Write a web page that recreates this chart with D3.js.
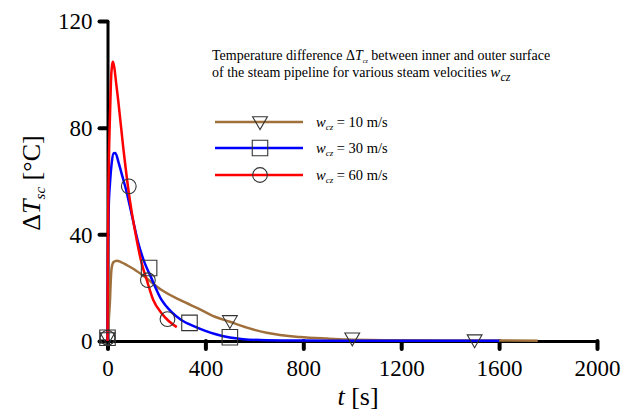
<!DOCTYPE html>
<html>
<head>
<meta charset="utf-8">
<script src="https://cdn.jsdelivr.net/npm/d3@7"></script>
<style>
  html, body { margin: 0; padding: 0; background: #fff; }
  text { font-family: "Liberation Serif", "Times New Roman", serif; fill: #000; }
</style>
</head>
<body>
<div id="chart"></div>
<script>
// curve for w_cz = 10 m/s
var time10 = [0, 3, 6, 10, 13, 17, 25, 38, 55, 80, 110, 153, 221, 300, 378, 439, 500, 570, 650, 786, 900, 977, 1200, 1500, 1758];
var dT10   = [0, 4, 9, 15, 22, 27.5, 29.6, 30.1, 29.6, 28.4, 26.8, 24, 19.1, 15.2, 11.9, 9.1, 7.2, 5, 3.1, 1.5, 0.9, 0.6, 0.3, 0.2, 0.1];

// curve for w_cz = 30 m/s
var time30 = [0, 2, 5, 10, 17, 25, 32, 45, 60, 75, 100, 125, 153, 174, 221, 260, 300, 357, 400, 439, 500, 554, 650, 800, 1000, 1600];
var dT30   = [0, 35, 50, 59, 66.6, 70.4, 70.5, 67, 62, 57, 47, 37, 29, 24.7, 15.4, 11, 8, 5.4, 3.8, 2.6, 1.3, 0.7, 0.3, 0.15, 0.1, 0.05];

// curve for w_cz = 60 m/s
var time60 = [0, 2, 4, 7, 10, 14, 18, 22, 27, 35, 44, 65, 88, 115, 140, 160, 187, 220, 250, 283];
var dT60   = [0, 40, 58, 74, 84, 97, 103, 104.7, 103, 97, 90, 72, 55, 40, 29, 23, 15.4, 10.5, 7.5, 5.2];

// measured points
var mark10T = [0, 500, 1000, 1500];
var mark10V = [1.5, 7.9, 1.4, 0.7];
var mark30T = [0, 170, 335, 500];
var mark30V = [1.2, 27.4, 6.8, 1.4];
var mark60T = [0, 87, 165, 245];
var mark60V = [1.2, 58, 22.8, 8.2];

var xTicks = [0, 400, 800, 1200, 1600, 2000];
var yTicks = [0, 40, 80, 120];

var legendLabels = ["10", "30", "60"];
var colors = ["#a0703c", "#0000ff", "#ff0000"];

var width = 633, height = 415;

var svg = d3.select("#chart").append("svg")
  .attr("width", width)
  .attr("height", height);

var x = d3.scaleLinear().domain([0, 2000]).range([107.5, 597]);
var y = d3.scaleLinear().domain([0, 120]).range([341, 21]);

// axes
var xAxis = svg.append("g")
  .attr("transform", "translate(0," + y(0) + ")")
  .call(d3.axisBottom(x).tickValues(xTicks).tickFormat(d3.format("d"))
    .tickSize(8).tickSizeOuter(0).tickPadding(6));

var yAxis = svg.append("g")
  .attr("transform", "translate(" + x(0) + ",0)")
  .call(d3.axisLeft(y).tickValues(yTicks).tickFormat(d3.format("d"))
    .tickSize(8).tickSizeOuter(0).tickPadding(7));

[xAxis, yAxis].forEach(function(g) {
  g.select(".domain").attr("stroke", "#000").attr("stroke-width", 3);
  g.selectAll(".tick line").attr("stroke", "#000").attr("stroke-width", 4).attr("stroke-linecap", "round");
  g.selectAll(".tick text").style("font-size", "23px").attr("fill", "#000");
});
xAxis.selectAll(".tick text").attr("dy", "0.92em");
yAxis.selectAll(".tick text").attr("dy", "0.34em");

// curves
var line = d3.line()
  .x(function(d) { return x(d[0]); })
  .y(function(d) { return y(d[1]); })
  .curve(d3.curveMonotoneX);

var curves = [d3.zip(time10, dT10), d3.zip(time30, dT30), d3.zip(time60, dT60)];

svg.selectAll(".curve")
  .data(curves)
  .enter().append("path")
  .attr("class", "curve")
  .attr("d", line)
  .attr("fill", "none")
  .attr("stroke", function(d, i) { return colors[i]; })
  .attr("stroke-width", 2.5);

// markers
var symTri = d3.symbol().type(d3.symbolTriangle).size(95);
var symSq = d3.symbol().type(d3.symbolSquare).size(240);
var symCirc = d3.symbol().type(d3.symbolCircle).size(170);

function drawMarkers(ts, vs, sym, rot) {
  svg.append("g").selectAll("path")
    .data(d3.zip(ts, vs))
    .enter().append("path")
    .attr("d", sym)
    .attr("transform", function(d) {
      return "translate(" + x(d[0]) + "," + y(d[1]) + ")" + (rot ? " rotate(180)" : "");
    })
    .attr("fill", "none")
    .attr("stroke", "#333")
    .attr("stroke-width", 1.1);
}
drawMarkers(mark10T, mark10V, symTri, true);
drawMarkers(mark30T, mark30V, symSq, false);
drawMarkers(mark60T, mark60V, symCirc, false);

// axis titles
var yl = svg.append("text")
  .attr("transform", "translate(40,183) rotate(-90)")
  .attr("text-anchor", "middle")
  .style("font-size", "26px");
yl.append("tspan").text("Δ");
yl.append("tspan").style("font-style", "italic").text("T");
yl.append("tspan").style("font-style", "italic").style("font-size", "15px").attr("dy", 5).text("sc");
yl.append("tspan").attr("dy", -5).text(" [°C]");

var xl = svg.append("text")
  .attr("x", 358).attr("y", 405)
  .attr("text-anchor", "middle")
  .style("font-size", "26px");
xl.append("tspan").style("font-style", "italic").text("t");
xl.append("tspan").text(" [s]");

// title text
var t1 = svg.append("text").attr("x", 212).attr("y", 60).style("font-size", "14px");
t1.append("tspan").text("Temperature difference Δ");
t1.append("tspan").style("font-style", "italic").text("T");
t1.append("tspan").style("font-size", "6px").style("font-style", "italic").attr("dy", 3).text("cz");
t1.append("tspan").attr("dy", -3).text(" between inner and outer surface");

var t2 = svg.append("text").attr("x", 212).attr("y", 77).style("font-size", "14px");
t2.append("tspan").text("of the steam pipeline for various steam velocities ");
t2.append("tspan").style("font-style", "italic").style("font-size", "15px").text("w");
t2.append("tspan").style("font-style", "italic").style("font-size", "12px").attr("dy", 4).text("cz");

// legend
var legendY = [122, 148, 175];
var legSyms = [symTri, symSq, symCirc];
legendLabels.forEach(function(lab, i) {
  var g = svg.append("g").attr("transform", "translate(0," + legendY[i] + ")");
  g.append("line").attr("x1", 215).attr("x2", 303).attr("y1", 0).attr("y2", 0)
    .attr("stroke", colors[i]).attr("stroke-width", 2.5);
  g.append("path").attr("d", legSyms[i])
    .attr("transform", "translate(260," + (i === 0 ? -1 : 0) + ")" + (i === 0 ? " rotate(180)" : ""))
    .attr("fill", "none").attr("stroke", "#333").attr("stroke-width", 1.1);
  var tx = g.append("text").attr("x", 316).attr("y", 5).style("font-size", "14.5px");
  tx.append("tspan").style("font-style", "italic").text("w");
  tx.append("tspan").style("font-style", "italic").style("font-size", "9px").attr("dy", 3).text("cz");
  tx.append("tspan").attr("dy", -3).text(" = " + lab + " m/s");
});
</script>
</body>
</html>
